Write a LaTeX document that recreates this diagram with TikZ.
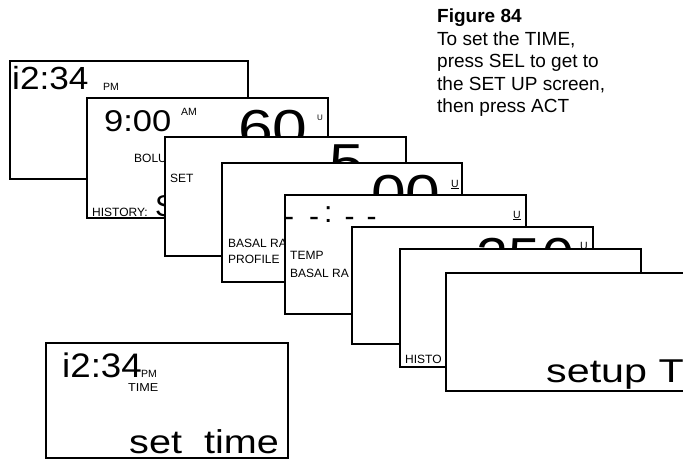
\documentclass[tikz,border=0pt]{standalone}
\usepackage{fontspec}
\setmainfont{Liberation Sans}
\usepackage{graphicx}
\newcommand{\wide}[2]{\scalebox{#1}[1]{#2}}

\begin{document}
\begin{tikzpicture}[x=1pt,y=-1pt,
  screen/.style={draw, fill=white, line width=1.8pt},
  lcd/.style={inner sep=0pt, anchor=base west},
  tiny/.style={lcd, font=\fontsize{10.5}{10.5}\selectfont},
  small/.style={lcd, font=\fontsize{12}{12}\selectfont},
  mid/.style={lcd, font=\fontsize{30}{30}\selectfont},
  big/.style={lcd, font=\fontsize{52}{52}\selectfont}]
  \useasboundingbox (0,0) rectangle (683,461);

  % Caption
  \node[anchor=north west, align=left, inner sep=0pt, font=\fontsize{19}{22.5}\selectfont] (caption) at (437,9)
    {\textbf{Figure 84}\\To set the TIME,\\press SEL to get to\\the SET UP screen,\\then press ACT};

  % Time screen
  \filldraw[screen] (10,61) rectangle (248,179);
  \node[lcd, font=\fontsize{32}{32}\selectfont] (clock) at (12,89) {\wide{1.1}{i2:34}};
  \node[tiny] (pm) at (103,90) {PM};

  % Bolus screen
  \filldraw[screen] (87,98) rectangle (328,218);
  \node[mid] (bolustime) at (104,131) {\wide{1.15}{9:00}};
  \node[tiny] (am) at (181,115) {AM};
  \node[big] (bolusamt) at (238,146) {\wide{1.2}{60}};
  \node[font=\fontsize{8}{8}\selectfont, inner sep=0pt] (bolusunit) at (320,118) {U};
  \node[small] (bolus) at (134,162) {BOLU};
  \node[small] (history) at (92,216) {HISTORY:};
  \node[mid] (histval) at (155,216) {S};

  % Set screen
  \filldraw[screen] (165,137) rectangle (406,256);
  \node[small] (set) at (170,182) {SET};
  \node[big] (setval) at (329,180) {\wide{1.2}{5}};

  % Basal profile screen
  \filldraw[screen] (222,163) rectangle (462,282);
  \node[small] (basal) at (228,247) {BASAL RA};
  \node[small] (profile) at (228,263) {PROFILE};
  \node[big] (basalval) at (371,211) {\wide{1.2}{00}};
  \node[tiny] (basalunit) at (451,187) {\underline{U}};

  % Temp basal screen
  \filldraw[screen] (285,195) rectangle (526,314);
  \node[mid] (dashes) at (284,222)
    {\raisebox{-4pt}{-}\hspace{15pt}\raisebox{-4pt}{-}\hspace{5pt}:\hspace{12pt}\raisebox{-4pt}{-}\hspace{12pt}\raisebox{-4pt}{-}};
  \node[tiny] (tempunit) at (513,218) {\underline{U}};
  \node[small] (temp) at (290,259) {TEMP};
  \node[small] (tempbasal) at (290,277) {BASAL RA};

  % Max screen
  \filldraw[screen] (352,227) rectangle (593,344);
  \node[big] (maxval) at (476,274) {\wide{1.1}{25\kern-6pt.\kern-6pt0}};
  \node[tiny] (maxunit) at (580,249) {\underline{U}};

  % History screen
  \filldraw[screen] (400,249) rectangle (641,367);
  \node[small] (histo) at (405,363) {HISTO};

  % Setup screen
  \filldraw[screen] (446,273) rectangle (690,391);
  \node[lcd, font=\fontsize{33}{33}\selectfont] (setup) at (546,382) {\wide{1.25}{setup T}};

  % Set time screen
  \filldraw[screen] (46,343) rectangle (288,458);
  \node[lcd, font=\fontsize{34}{34}\selectfont] (settime) at (62,377) {\wide{1.08}{i2:34}};
  \node[tiny] (setpm) at (141,377) {PM};
  \node[lcd, font=\fontsize{11.5}{11.5}\selectfont] (timelabel) at (128,391) {\wide{1.1}{TIME}};
  \node[lcd, font=\fontsize{33}{33}\selectfont] (setcmd) at (129,453) {\wide{1.2}{set\ \ time}};
\end{tikzpicture}
\end{document}
